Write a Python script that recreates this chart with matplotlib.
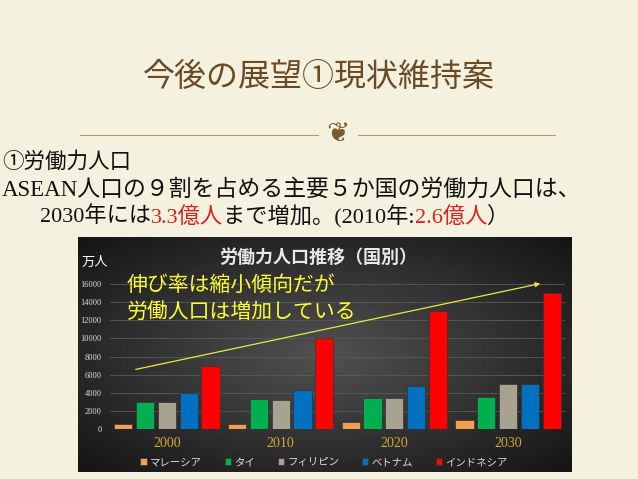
import matplotlib
matplotlib.use("Agg")
import matplotlib.pyplot as plt
import numpy as np

plt.rcParams['font.family'] = ['Noto Sans CJK JP', 'DejaVu Sans']

# ==== Data ==== #
years = ["2000", "2010", "2020", "2030"]
countries = ["マレーシア", "タイ", "フィリピン", "ベトナム", "インドネシア"]
malaysia = [500, 600, 800, 1000]
thai = [3000, 3300, 3400, 3500]
philippines = [2950, 3250, 3450, 5000]
vietnam = [4000, 4300, 4700, 5000]
indonesia = [7000, 10000, 13000, 15000]
series = [malaysia, thai, philippines, vietnam, indonesia]
colors = ["#f0a050", "#00b050", "#a8a290", "#0070c0", "#ff0000"]
yticks = [0, 2000, 4000, 6000, 8000, 10000, 12000, 14000, 16000]

W, H = 638, 479
fig = plt.figure(figsize=(W / 100, H / 100), dpi=100)
fig.patch.set_facecolor("#f4f1de")

def fx(px):
    return px / W

def fy(py):
    return 1 - py / H

# ==== Slide text ==== #
title_c = "#6b4a26"
fig.text(fx(319), fy(77), "今後の展望①現状維持案", ha="center", va="center",
         fontsize=23, color=title_c)
fig.add_artist(plt.Line2D([fx(80), fx(318)], [fy(135), fy(135)], color="#b89a6a", lw=0.8))
fig.add_artist(plt.Line2D([fx(358), fx(555)], [fy(135), fy(135)], color="#b89a6a", lw=0.8))
fig.text(0.53, fy(134), "❦", ha="center", va="center", fontsize=20,
         color="#7a5a30", family=['DejaVu Sans'])

serif = ['Liberation Serif', 'Noto Sans CJK JP']
fig.text(fx(2), fy(162), "①労働力人口", ha="left", va="center", fontsize=15.5, color="#111")
fig.text(fx(2), fy(190), "ASEAN人口の９割を占める主要５か国の労働力人口は、",
         ha="left", va="center", fontsize=16.5, color="#111", family=serif)
x0 = fx(40)
parts = [("2030年には", "#111"), ("3.3億人", "#e02020"), ("まで増加。(2010年:", "#111"),
         ("2.6億人", "#e02020"), ("）", "#111")]
fig.canvas.draw()
r = fig.canvas.get_renderer()
for s, c in parts:
    t = fig.text(x0, fy(217), s, ha="left", va="center", fontsize=16, color=c, family=serif)
    x0 += t.get_window_extent(r).width / W

# ==== Chart background ==== #
bg = fig.add_axes([fx(78), fy(472), fx(494), (472 - 237) / H])
yy, xx = np.mgrid[-1:1:200j, -1:1:300j]
grad = 0.32 - 0.17 * np.sqrt(xx ** 2 + yy ** 2)
bg.imshow(grad, cmap="gray", vmin=0, vmax=1, aspect="auto", extent=[0, 1, 0, 1])
bg.set_axis_off()

# ==== Bars ==== #
ax = fig.add_axes([fx(110), fy(429), fx(455), (429 - 284) / H])
ax.set_facecolor("none")
x = np.arange(len(years))
bw = 0.16
for i, (vals, c, name) in enumerate(zip(series, colors, countries)):
    ax.bar(x + (i - 2) * bw * 1.2, vals, bw, color=c, label=name, zorder=3,
           edgecolor="#333", linewidth=0.5)
ax.set_ylim(0, 16000)
ax.set_xlim(-0.5, 3.5)
ax.set_yticks(yticks)
ax.set_yticklabels([str(v) for v in yticks], fontsize=6, color="#ddd", family=serif)
ax.set_xticks(x)
ax.set_xticklabels(years, fontsize=10, color="#d4a838", family=serif)
ax.tick_params(length=0, pad=6)
ax.grid(axis="y", color="#5a5a5a", lw=0.6, zorder=0)
for s in ax.spines.values():
    s.set_visible(False)
ax.legend(loc="upper center", bbox_to_anchor=(0.47, -0.13), ncol=5, frameon=False,
          fontsize=7.5, labelcolor="#ddd", handlelength=0.6, handleheight=0.6,
          columnspacing=2.2, handletextpad=0.3)

fig.text(fx(82), fy(262), "万人", fontsize=9.5, color="white", va="center")
fig.text(fx(318), fy(257), "労働力人口推移（国別）", fontsize=13, color="#e8e8e8",
         ha="center", va="center", weight="bold")
fig.text(fx(127), fy(285), "伸び率は縮小傾向だが", fontsize=15, color="#ffff33", va="center")
fig.text(fx(127), fy(313), "労働人口は増加している", fontsize=15, color="#ffff33", va="center")
fig.add_artist(matplotlib.patches.FancyArrowPatch(
    (fx(133), fy(370)), (fx(543), fy(283)), transform=fig.transFigure,
    arrowstyle="-|>", mutation_scale=7, color="#e8e840", lw=0.9))

fig.savefig("out.png", dpi=100)
